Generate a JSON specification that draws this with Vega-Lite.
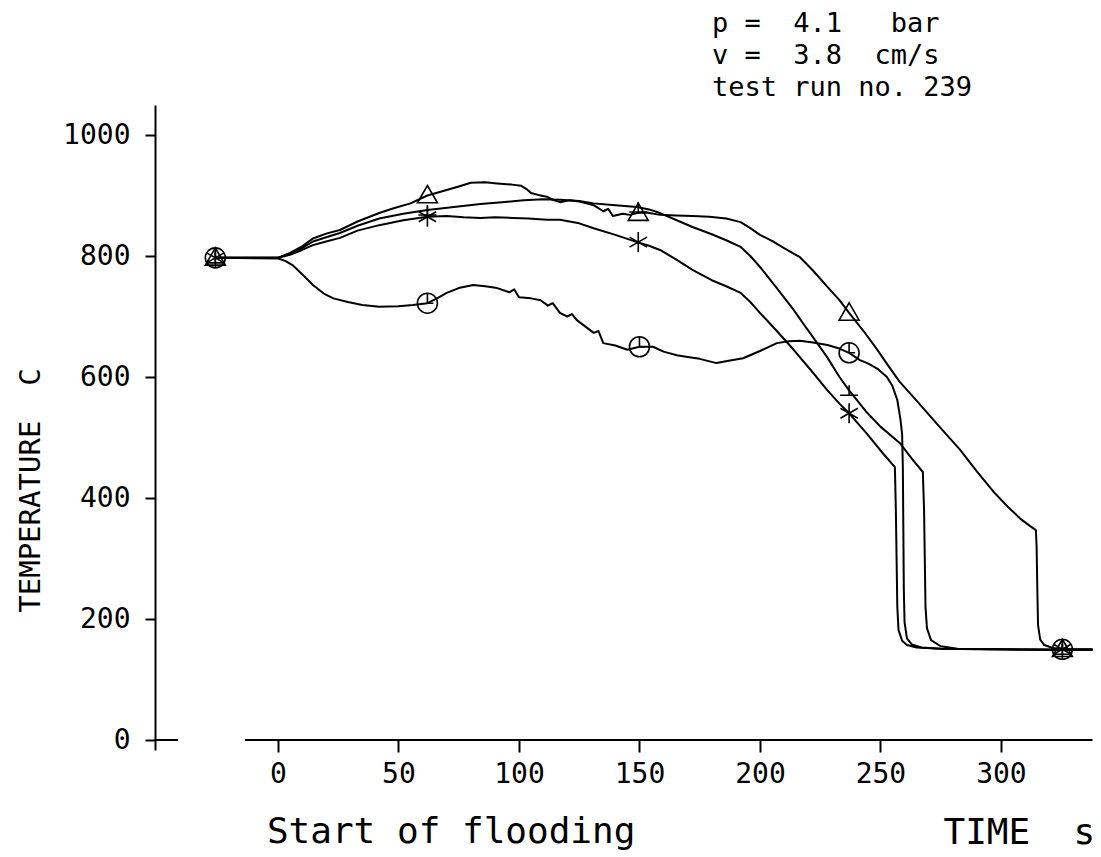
{
  "$schema": "https://vega.github.io/schema/vega-lite/v6.json",
  "width": 937.5,
  "height": 645,
  "autosize": {"type": "none"},
  "padding": {"left": 155, "top": 105, "right": 8, "bottom": 107},
  "background": "white",
  "config": {"view": {"stroke": null}, "font": "DejaVu Sans Mono", "text": {"font": "DejaVu Sans Mono", "fontSize": 28, "align": "left", "baseline": "alphabetic", "color": "black"}},
  "datasets": {
    "curves": [
      {"c":"tri","t":-26,"T":797},{"c":"tri","t":0,"T":797},{"c":"tri","t":5,"T":805},{"c":"tri","t":10,"T":816},{"c":"tri","t":14.5,"T":829},{"c":"tri","t":20,"T":837},{"c":"tri","t":25.7,"T":843},{"c":"tri","t":33,"T":857},{"c":"tri","t":42,"T":871},{"c":"tri","t":48,"T":879},{"c":"tri","t":55,"T":887},{"c":"tri","t":62,"T":900},{"c":"tri","t":70,"T":909},{"c":"tri","t":75,"T":915},{"c":"tri","t":80,"T":921},{"c":"tri","t":86,"T":922},{"c":"tri","t":91,"T":920},{"c":"tri","t":97,"T":918},{"c":"tri","t":101,"T":916},{"c":"tri","t":103,"T":911},{"c":"tri","t":105,"T":904},{"c":"tri","t":108,"T":901},{"c":"tri","t":111.5,"T":898},{"c":"tri","t":114,"T":893},{"c":"tri","t":117,"T":889},{"c":"tri","t":121,"T":892},{"c":"tri","t":125,"T":890},{"c":"tri","t":128,"T":887},{"c":"tri","t":131,"T":884},{"c":"tri","t":135,"T":874},{"c":"tri","t":137,"T":878},{"c":"tri","t":139,"T":866},{"c":"tri","t":143,"T":870},{"c":"tri","t":146,"T":868},{"c":"tri","t":149,"T":871},{"c":"tri","t":153,"T":872},{"c":"tri","t":158.5,"T":868},{"c":"tri","t":165,"T":867},{"c":"tri","t":172,"T":866},{"c":"tri","t":179,"T":865},{"c":"tri","t":186,"T":862},{"c":"tri","t":192,"T":856},{"c":"tri","t":196,"T":846},{"c":"tri","t":200,"T":835},{"c":"tri","t":205,"T":825},{"c":"tri","t":210,"T":813},{"c":"tri","t":216.6,"T":798},{"c":"tri","t":222,"T":776},{"c":"tri","t":228,"T":749},{"c":"tri","t":233,"T":727},{"c":"tri","t":237,"T":706},{"c":"tri","t":243,"T":676},{"c":"tri","t":248.5,"T":646},{"c":"tri","t":253,"T":620},{"c":"tri","t":258,"T":592},{"c":"tri","t":265,"T":561},{"c":"tri","t":274,"T":520},{"c":"tri","t":283,"T":480},{"c":"tri","t":290,"T":444},{"c":"tri","t":297,"T":410},{"c":"tri","t":303,"T":385},{"c":"tri","t":308,"T":366},{"c":"tri","t":312,"T":354},{"c":"tri","t":314.5,"T":347},{"c":"tri","t":314.8,"T":320},{"c":"tri","t":315.1,"T":250},{"c":"tri","t":315.4,"T":190},{"c":"tri","t":316.3,"T":166},{"c":"tri","t":318,"T":157},{"c":"tri","t":321.6,"T":152},{"c":"tri","t":326,"T":150},{"c":"tri","t":338,"T":150},
      {"c":"perp","t":-26,"T":797},{"c":"perp","t":0,"T":797},{"c":"perp","t":5,"T":804},{"c":"perp","t":10,"T":813},{"c":"perp","t":14.5,"T":824},{"c":"perp","t":20,"T":831},{"c":"perp","t":25.7,"T":838},{"c":"perp","t":33,"T":850},{"c":"perp","t":42,"T":862},{"c":"perp","t":52,"T":870},{"c":"perp","t":62,"T":876},{"c":"perp","t":73,"T":881},{"c":"perp","t":84,"T":886},{"c":"perp","t":93,"T":889},{"c":"perp","t":102,"T":892},{"c":"perp","t":110,"T":894},{"c":"perp","t":117,"T":893},{"c":"perp","t":125,"T":891},{"c":"perp","t":131,"T":887},{"c":"perp","t":140,"T":884},{"c":"perp","t":149,"T":881},{"c":"perp","t":154,"T":877},{"c":"perp","t":158.5,"T":871},{"c":"perp","t":165,"T":860},{"c":"perp","t":172,"T":848},{"c":"perp","t":180,"T":836},{"c":"perp","t":186,"T":826},{"c":"perp","t":192,"T":815},{"c":"perp","t":196,"T":800},{"c":"perp","t":200,"T":782},{"c":"perp","t":207,"T":747},{"c":"perp","t":214,"T":711},{"c":"perp","t":218,"T":688},{"c":"perp","t":222,"T":666},{"c":"perp","t":228,"T":632},{"c":"perp","t":233,"T":600},{"c":"perp","t":237,"T":578},{"c":"perp","t":244,"T":543},{"c":"perp","t":250,"T":518},{"c":"perp","t":258,"T":491},{"c":"perp","t":263,"T":465},{"c":"perp","t":267.6,"T":443},{"c":"perp","t":268.1,"T":380},{"c":"perp","t":268.4,"T":300},{"c":"perp","t":268.7,"T":220},{"c":"perp","t":269.3,"T":185},{"c":"perp","t":271,"T":165},{"c":"perp","t":275,"T":155},{"c":"perp","t":282,"T":151},{"c":"perp","t":300,"T":150},{"c":"perp","t":326,"T":149},{"c":"perp","t":338,"T":149},
      {"c":"ast","t":-26,"T":797},{"c":"ast","t":0,"T":797},{"c":"ast","t":5,"T":802},{"c":"ast","t":10,"T":810},{"c":"ast","t":14.5,"T":818},{"c":"ast","t":20,"T":824},{"c":"ast","t":25.7,"T":830},{"c":"ast","t":33,"T":842},{"c":"ast","t":42,"T":851},{"c":"ast","t":52,"T":859},{"c":"ast","t":62,"T":865},{"c":"ast","t":70,"T":866},{"c":"ast","t":77,"T":864},{"c":"ast","t":84,"T":863},{"c":"ast","t":90,"T":864},{"c":"ast","t":97.5,"T":863},{"c":"ast","t":104,"T":862},{"c":"ast","t":111.5,"T":860},{"c":"ast","t":117,"T":860},{"c":"ast","t":125,"T":854},{"c":"ast","t":131,"T":846},{"c":"ast","t":140,"T":835},{"c":"ast","t":149,"T":823},{"c":"ast","t":154,"T":817},{"c":"ast","t":158.5,"T":810},{"c":"ast","t":165,"T":795},{"c":"ast","t":172,"T":777},{"c":"ast","t":180,"T":760},{"c":"ast","t":186,"T":750},{"c":"ast","t":192,"T":739},{"c":"ast","t":196,"T":724},{"c":"ast","t":200,"T":706},{"c":"ast","t":207,"T":676},{"c":"ast","t":214,"T":645},{"c":"ast","t":221,"T":612},{"c":"ast","t":228,"T":578},{"c":"ast","t":233,"T":556},{"c":"ast","t":237,"T":540},{"c":"ast","t":244,"T":508},{"c":"ast","t":251,"T":474},{"c":"ast","t":256,"T":451},{"c":"ast","t":256.4,"T":380},{"c":"ast","t":256.7,"T":300},{"c":"ast","t":257,"T":220},{"c":"ast","t":257.5,"T":182},{"c":"ast","t":259,"T":164},{"c":"ast","t":261,"T":157},{"c":"ast","t":265,"T":153},{"c":"ast","t":275,"T":151},{"c":"ast","t":300,"T":150},{"c":"ast","t":326,"T":149},{"c":"ast","t":338,"T":149},
      {"c":"circ","t":-26,"T":797},{"c":"circ","t":0,"T":796},{"c":"circ","t":3,"T":792},{"c":"circ","t":6,"T":785},{"c":"circ","t":10,"T":770},{"c":"circ","t":14.5,"T":752},{"c":"circ","t":19,"T":738},{"c":"circ","t":23,"T":730},{"c":"circ","t":29,"T":724},{"c":"circ","t":35,"T":719},{"c":"circ","t":42,"T":716},{"c":"circ","t":50,"T":717},{"c":"circ","t":56,"T":719},{"c":"circ","t":62,"T":722},{"c":"circ","t":66,"T":730},{"c":"circ","t":70,"T":739},{"c":"circ","t":75,"T":747},{"c":"circ","t":81,"T":752},{"c":"circ","t":86,"T":750},{"c":"circ","t":91,"T":747},{"c":"circ","t":96,"T":740},{"c":"circ","t":98,"T":745},{"c":"circ","t":100,"T":732},{"c":"circ","t":105,"T":730},{"c":"circ","t":109,"T":727},{"c":"circ","t":112,"T":718},{"c":"circ","t":114,"T":722},{"c":"circ","t":117,"T":706},{"c":"circ","t":120,"T":700},{"c":"circ","t":122,"T":704},{"c":"circ","t":124,"T":694},{"c":"circ","t":128,"T":682},{"c":"circ","t":131,"T":673},{"c":"circ","t":133,"T":676},{"c":"circ","t":135,"T":656},{"c":"circ","t":140,"T":652},{"c":"circ","t":145,"T":645},{"c":"circ","t":150,"T":650},{"c":"circ","t":155.6,"T":650},{"c":"circ","t":160,"T":642},{"c":"circ","t":165.5,"T":636},{"c":"circ","t":170,"T":633},{"c":"circ","t":175,"T":630},{"c":"circ","t":182,"T":623},{"c":"circ","t":187,"T":627},{"c":"circ","t":193,"T":631},{"c":"circ","t":200,"T":643},{"c":"circ","t":207,"T":656},{"c":"circ","t":212,"T":659},{"c":"circ","t":216.6,"T":660},{"c":"circ","t":222,"T":657},{"c":"circ","t":228,"T":653},{"c":"circ","t":233,"T":647},{"c":"circ","t":237,"T":640},{"c":"circ","t":241.5,"T":628},{"c":"circ","t":245,"T":622},{"c":"circ","t":249,"T":613},{"c":"circ","t":252.7,"T":600},{"c":"circ","t":255,"T":585},{"c":"circ","t":257,"T":562},{"c":"circ","t":258.3,"T":530},{"c":"circ","t":259,"T":505},{"c":"circ","t":259.3,"T":450},{"c":"circ","t":259.5,"T":350},{"c":"circ","t":259.7,"T":250},{"c":"circ","t":260,"T":195},{"c":"circ","t":261,"T":168},{"c":"circ","t":263,"T":158},{"c":"circ","t":267,"T":153},{"c":"circ","t":275,"T":151},{"c":"circ","t":290,"T":150},{"c":"circ","t":326,"T":149},{"c":"circ","t":338,"T":149}
    ],
    "markers": [
      {"c":"tri","t":-26,"T":797},{"c":"tri","t":62,"T":900},{"c":"tri","t":149.5,"T":871},{"c":"tri","t":237,"T":706},{"c":"tri","t":325.5,"T":150},
      {"c":"perp","t":-26,"T":797},{"c":"perp","t":62,"T":876},{"c":"perp","t":149.5,"T":881},{"c":"perp","t":237,"T":578},{"c":"perp","t":325.5,"T":150},
      {"c":"ast","t":-26,"T":797},{"c":"ast","t":62,"T":865},{"c":"ast","t":149.5,"T":823},{"c":"ast","t":237,"T":540},{"c":"ast","t":325.5,"T":150},
      {"c":"circ","t":-26,"T":797},{"c":"circ","t":62,"T":722},{"c":"circ","t":150,"T":650},{"c":"circ","t":237,"T":640},{"c":"circ","t":325.5,"T":150}
    ]
  },
  "layer": [
    {
      "data": {"name": "curves"},
      "mark": {"type": "line", "color": "black", "strokeWidth": 2, "strokeJoin": "round"},
      "encoding": {
        "x": {
          "field": "t", "type": "quantitative",
          "scale": {"domain": [-51.04, 338], "nice": false, "zero": false},
          "axis": {
            "orient": "bottom", "offset": -10, "domain": false,
            "values": [0, 50, 100, 150, 200, 250, 300], "format": "d",
            "grid": false, "tickColor": "black", "tickWidth": 2, "tickSize": 12,
            "labelFont": "DejaVu Sans Mono", "labelFontSize": 28, "labelColor": "black",
            "labelPadding": 8, "labelDx": -3, "labelFlush": false, "labelOverlap": false,
            "title": "TIME\u00a0\u00a0s", "titleFont": "DejaVu Sans Mono", "titleFontSize": 36,
            "titleFontWeight": "normal", "titleColor": "black",
            "titleX": 788, "titleY": 103, "titleAlign": "left", "titleBaseline": "alphabetic", "titleAngle": 0
          }
        },
        "y": {
          "field": "T", "type": "quantitative",
          "scale": {"domain": [-16.5, 1049.6], "nice": false, "zero": false},
          "axis": {
            "values": [0, 200, 400, 600, 800, 1000], "format": "d",
            "grid": false, "domainColor": "black", "domainWidth": 2,
            "tickColor": "black", "tickWidth": 2, "tickSize": 10,
            "labelFont": "DejaVu Sans Mono", "labelFontSize": 28, "labelColor": "black",
            "labelPadding": 15, "labelFlush": false, "labelOverlap": false,
            "title": "TEMPERATURE\u00a0\u00a0C", "titleFont": "DejaVu Sans Mono", "titleFontSize": 29,
            "titleFontWeight": "normal", "titleColor": "black",
            "titleX": -125, "titleY": 385, "titleAngle": -90, "titleAlign": "center", "titleBaseline": "middle"
          }
        },
        "detail": {"field": "c", "type": "nominal"}
      }
    },
    {
      "data": {"name": "markers"},
      "mark": {"type": "point", "filled": false, "stroke": "black", "strokeWidth": 1.6, "size": 400, "opacity": 1},
      "encoding": {
        "x": {"field": "t", "type": "quantitative"},
        "y": {"field": "T", "type": "quantitative"},
        "shape": {
          "field": "c", "type": "nominal", "legend": null,
          "scale": {
            "domain": ["tri", "circ", "ast", "perp"],
            "range": [
              "M0,-1L1,0.73L-1,0.73Z",
              "M1,0A1,1,0,1,1,-1,0A1,1,0,1,1,1,0ZM0,0L0,-1M0,0L0.6,0",
              "M0,-1L0,1M-0.87,-0.5L0.87,0.5M-0.87,0.5L0.87,-0.5",
              "M-0.9,0.5L0.9,0.5M0,0.5L0,-0.5"
            ]
          }
        }
      }
    },
    {
      "data": {"values": [{}]},
      "mark": {"type": "rule", "color": "black", "strokeWidth": 2},
      "encoding": {"x": {"datum": -13.7}, "x2": {"datum": 338}, "y": {"datum": 0}}
    },
    {
      "data": {"values": [{}]},
      "mark": {"type": "rule", "color": "black", "strokeWidth": 2},
      "encoding": {"x": {"datum": -51.04}, "x2": {"datum": -41.5}, "y": {"datum": 0}}
    },
    {
      "data": {"values": [{}]},
      "mark": {"type": "text", "text": "Start of flooding", "fontSize": 36},
      "encoding": {"x": {"datum": -4.6}, "y": {"datum": -170.2}}
    },
    {
      "data": {"values": [{}]},
      "mark": {
        "type": "text",
        "text": ["p\u00a0=\u00a0\u00a04.1\u00a0\u00a0\u00a0bar", "v\u00a0=\u00a0\u00a03.8\u00a0\u00a0cm/s", "test\u00a0run\u00a0no.\u00a0239"],
        "fontSize": 27, "lineHeight": 32
      },
      "encoding": {"x": {"datum": 180.1}, "y": {"datum": 1170.3}}
    }
  ]
}
